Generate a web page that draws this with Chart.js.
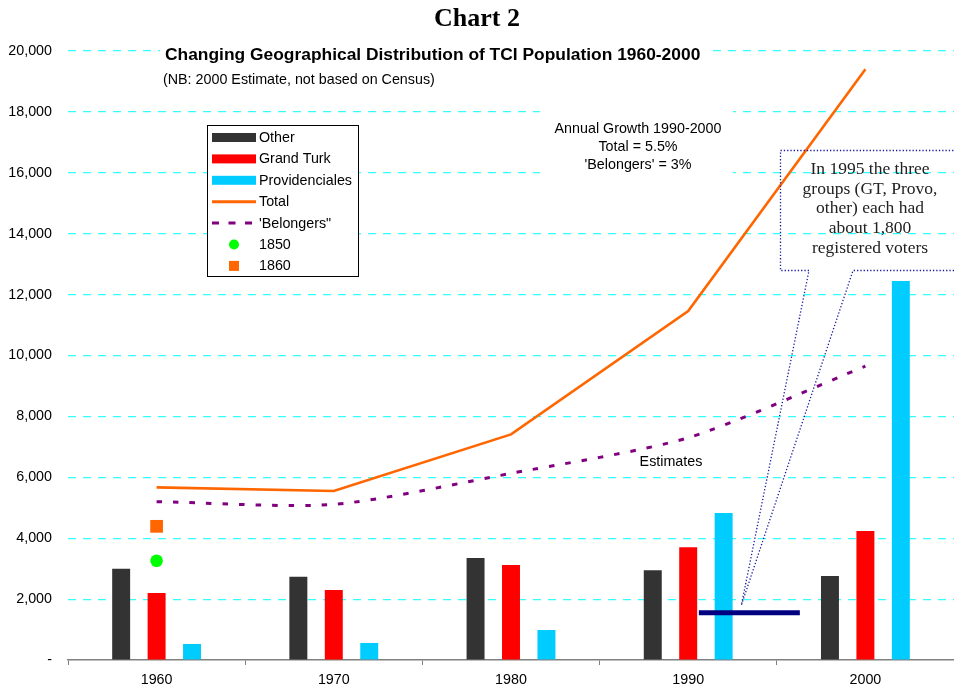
<!DOCTYPE html>
<html><head><meta charset="utf-8">
<script src="https://cdn.jsdelivr.net/npm/chart.js@4.4.1/dist/chart.umd.min.js"></script>
<style>html,body{margin:0;padding:0;background:#fff;}#wrap{width:954px;height:690px;position:relative;}canvas{display:block;}</style>
</head><body><div id="wrap"><canvas id="c" width="954" height="690"></canvas></div>
<script>
// ---- data ----
const categories = [1960, 1970, 1980, 1990, 2000];
const otherPop = [3000, 2730, 3350, 2950, 2760];
const grandTurkPop = [2200, 2300, 3120, 3700, 4240];
const provoPop = [525, 560, 985, 4830, 12450];
const totalPop = [5670, 5550, 7410, 11460, 19400];
const belongersPop = [5200, 5110, 6130, 7300, 9650];
const pop1850 = [3260, null, null, null, null];
const pop1860 = [4390, null, null, null, null];
const voterYears = [1990.6, 1996.3];
const voterLevel = [1550, 1550];
const calloutTip = { year: 1993, value: 1800 };
const yTicks = [0, 2000, 4000, 6000, 8000, 10000, 12000, 14000, 16000, 18000, 20000];
const xBoundaries = [1955, 1965, 1975, 1985, 1995];

const chartTitle = 'Chart 2';
const subTitle = 'Changing Geographical Distribution of TCI Population 1960-2000';
const noteText = '(NB: 2000 Estimate, not based on Census)';
const growthLines = ['Annual Growth 1990-2000', 'Total = 5.5%', "'Belongers' = 3%"];
const estimatesText = 'Estimates';
const calloutLines = ['In 1995 the three', 'groups (GT, Provo,', 'other) each had', 'about 1,800', 'registered voters'];

const SANS = "'Liberation Sans', Arial, sans-serif";
const SERIF = "'Liberation Serif', 'Times New Roman', serif";

Chart.defaults.font.family = SANS;
Chart.defaults.color = '#000';

const pts = arr => categories.map((c, i) => ({ x: c, y: arr[i] })).filter(p => p.y !== null);
const voterData = voterYears.map((y, i) => ({ x: y, y: voterLevel[i] }));
const xTickValues = xBoundaries.concat(categories).sort((a, b) => a - b);

const datasets = [
  { type: 'bar', label: 'Other', data: pts(otherPop), backgroundColor: '#333333', order: 10 },
  { type: 'bar', label: 'Grand Turk', data: pts(grandTurkPop), backgroundColor: '#FF0000', order: 10 },
  { type: 'bar', label: 'Providenciales', data: pts(provoPop), backgroundColor: '#00CCFF', order: 10 },
  { type: 'line', label: 'Total', data: pts(totalPop), borderColor: '#FF6600', borderWidth: 2.6, pointRadius: 0, tension: 0, order: 2 },
  { type: 'line', label: "'Belongers\"", data: pts(belongersPop), borderColor: '#800080', borderWidth: 3, borderDash: [5.5, 11], pointRadius: 0, tension: 0.25, order: 2 },
  { type: 'line', label: '1850', data: pts(pop1850), showLine: false, pointStyle: 'circle', pointRadius: 6.3, backgroundColor: '#00FF00', borderColor: '#00FF00', borderWidth: 0, order: 1 },
  { type: 'line', label: '1860', data: pts(pop1860), showLine: false, pointStyle: 'rect', pointRadius: 9, backgroundColor: '#FF6600', borderColor: '#FF6600', borderWidth: 0, order: 1 },
  { type: 'line', label: 'voters', data: voterData, borderColor: '#000080', borderWidth: 5, pointRadius: 0, borderCapStyle: 'butt', order: 0 }
];

const legendItems = [0, 1, 2, 3, 4, 5, 6];

const backPlugin = {
  id: 'backBoxes',
  beforeDatasetsDraw(chart) {
    const ctx = chart.ctx;
    ctx.save();
    ctx.fillStyle = '#fff';
    ctx.fillRect(160, 43, 546, 48);
    ctx.fillRect(540, 105, 193, 80);
    ctx.restore();
  }
};

const annoPlugin = {
  id: 'annotations',
  afterDatasetsDraw(chart) {
    const ctx = chart.ctx;
    const x = chart.scales.x, y = chart.scales.y;
    ctx.save();
    ctx.fillStyle = '#000';
    ctx.textBaseline = 'middle';
    ctx.textAlign = 'left';
    ctx.font = 'bold 17.4px ' + SANS;
    ctx.fillText(subTitle, 165, 55);
    ctx.font = '14.3px ' + SANS;
    ctx.fillText(noteText, 163, 80.5);
    ctx.textAlign = 'center';
    growthLines.forEach((t, i) => ctx.fillText(t, 638, 129.5 + i * 17.8));
    ctx.fillText(estimatesText, 671, 462.5);
    // callout
    const tipX = x.getPixelForValue(calloutTip.year);
    const tipY = y.getPixelForValue(calloutTip.value);
    ctx.strokeStyle = '#1a1aa0';
    ctx.lineWidth = 1.3;
    ctx.setLineDash([1.3, 2]);
    ctx.beginPath();
    ctx.moveTo(960, 150.5);
    ctx.lineTo(780.5, 150.5);
    ctx.lineTo(780.5, 270.5);
    ctx.lineTo(809, 270.5);
    ctx.lineTo(tipX, tipY);
    ctx.lineTo(853, 270.5);
    ctx.lineTo(960, 270.5);
    ctx.stroke();
    ctx.setLineDash([]);
    ctx.fillStyle = '#222';
    ctx.font = '17.5px ' + SERIF;
    calloutLines.forEach((t, i) => ctx.fillText(t, 870, 169.5 + i * 19.7));
    ctx.restore();
  },
  afterDraw(chart) {
    const ctx = chart.ctx;
    ctx.save();
    const bx = 207, by = 125, bw = 151, bh = 151;
    ctx.fillStyle = '#fff';
    ctx.fillRect(bx, by, bw, bh);
    ctx.strokeStyle = '#000';
    ctx.lineWidth = 1;
    ctx.strokeRect(bx + 0.5, by + 0.5, bw, bh);
    ctx.font = '14.3px ' + SANS;
    ctx.textBaseline = 'middle';
    ctx.textAlign = 'left';
    legendItems.forEach((di, i) => {
      const ds = chart.data.datasets[di];
      const yy = 137.5 + i * 21.4;
      if (ds.type === 'bar') {
        ctx.fillStyle = ds.backgroundColor;
        ctx.fillRect(212, yy - 4.5, 44, 9);
      } else if (ds.showLine === false) {
        ctx.fillStyle = ds.backgroundColor;
        if (ds.pointStyle === 'circle') {
          ctx.beginPath(); ctx.arc(234, yy, 5, 0, Math.PI * 2); ctx.fill();
        } else {
          ctx.fillRect(229, yy - 5, 10, 10);
        }
      } else {
        ctx.strokeStyle = ds.borderColor;
        ctx.lineWidth = 3;
        ctx.setLineDash(ds.borderDash ? [7, 9.5] : []);
        ctx.beginPath(); ctx.moveTo(212, yy); ctx.lineTo(256, yy); ctx.stroke();
        ctx.setLineDash([]);
      }
      ctx.fillStyle = '#000';
      ctx.fillText(ds.label, 259, yy + 0.5);
    });
    ctx.restore();
  }
};

new Chart(document.getElementById('c'), {
  type: 'bar',
  data: { datasets: datasets },
  options: {
    responsive: false,
    animation: false,
    events: [],
    datasets: { bar: { categoryPercentage: 1.2, barPercentage: 0.507 } },
    layout: { autoPadding: false, padding: { top: 0, right: 0, bottom: 0, left: 0 } },
    plugins: {
      legend: { display: false },
      tooltip: { enabled: false },
      title: {
        display: true, text: chartTitle, color: '#000',
        font: { family: SERIF, size: 26, weight: 'bold', lineHeight: 1.2 },
        padding: { top: 4, bottom: 15.8 }
      }
    },
    scales: {
      x: {
        type: 'linear', min: 1955, max: 2005, offset: false,
        afterBuildTicks(s) { s.ticks = xTickValues.map(v => ({ value: v })); },
        grid: {
          offset: false, drawOnChartArea: false, drawTicks: true, tickLength: 5, color: '#808080',
          tickColor: c => (c.tick && categories.includes(c.tick.value)) ? 'rgba(0,0,0,0)' : '#808080'
        },
        border: { display: true, color: '#808080', width: 1.5 },
        ticks: {
          autoSkip: false, maxRotation: 0, padding: 6, font: { size: 14.3 }, color: '#000',
          callback: v => categories.includes(v) ? String(v) : ''
        },
        afterFit(s) { s.height = 30; }
      },
      y: {
        min: 0, max: 20000,
        afterBuildTicks(s) { s.ticks = yTicks.map(v => ({ value: v })); },
        grid: {
          drawTicks: false,
          color: c => (c.tick && c.tick.value === 0) ? 'rgba(0,0,0,0)' : '#33FFFF',
          lineWidth: 1.2
        },
        border: { display: false, dash: [8, 7] },
        ticks: {
          padding: 16, font: { size: 14.3 }, color: '#000',
          callback: v => v === 0 ? '-' : v.toLocaleString('en-US')
        },
        afterFit(s) { s.width = 68; }
      }
    }
  },
  plugins: [backPlugin, annoPlugin]
});
</script></body></html>
